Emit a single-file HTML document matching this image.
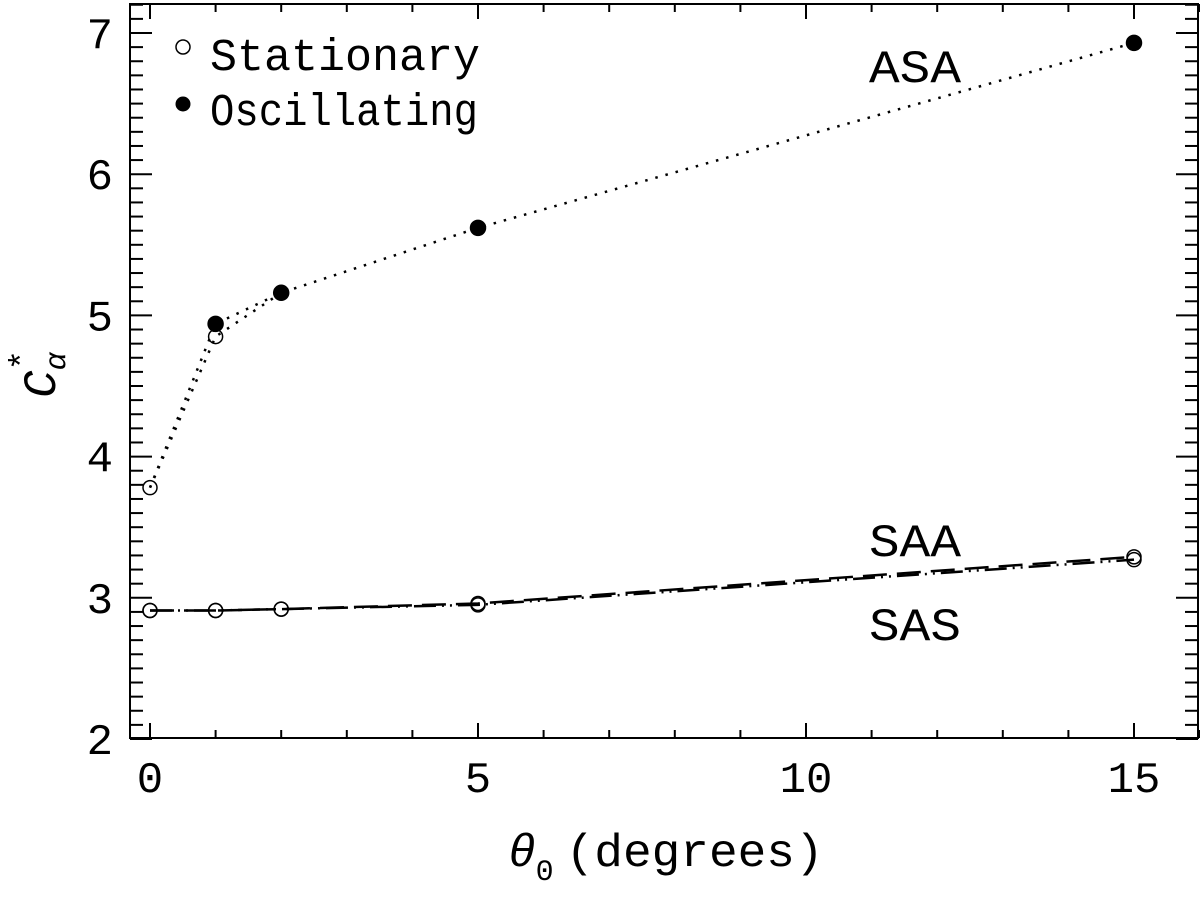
<!DOCTYPE html>
<html><head><meta charset="utf-8"><style>
body{margin:0;background:#fff}
svg text{font-family:"Liberation Mono","DejaVu Sans Mono",monospace;fill:#000}
</style></head><body>
<svg id="chart" width="1200" height="896" xmlns="http://www.w3.org/2000/svg"></svg>
<script>
const asaX=[0,1,2,5,15];
const asaOsc=[3.78,4.94,5.16,5.62,6.93];
const asaStatX=[0,1];
const asaStat=[3.78,4.85];
const saaX=[0,1,2,5,15];
const saaVals=[2.91,2.91,2.92,2.96,3.29];
const sasVals=[2.91,2.91,2.92,2.95,3.27];
const xTicks=[0,5,10,15];
const yTicks=[2,3,4,5,6,7];
const L=130,R=1198,T=4,B=738;
const xs=v=>150+v*65.6;
const ys=v=>33+(7-v)*141.2;
const svg=document.getElementById('chart');
const NS='http://www.w3.org/2000/svg';
function el(tag,attrs,parent){const e=document.createElementNS(NS,tag);for(const k in attrs)e.setAttribute(k,attrs[k]);(parent||svg).appendChild(e);return e;}
const frame=el('rect',{x:L,y:T,width:R-L,height:B-T,fill:'none',stroke:'#000','stroke-width':2});


for(let v=0;v<=16;v++){const x=xs(v);const len=(v%5===0)?15:8;
 const t1=el('line',{x1:x,y1:B,x2:x,y2:B-len,stroke:'#000','stroke-width':2});
 
 
 const t2=el('line',{x1:x,y1:T,x2:x,y2:T+len,stroke:'#000','stroke-width':2});
 
 }
xTicks.forEach(v=>{const t=el('text',{x:xs(v),y:792,'font-size':44,'text-anchor':'middle'});t.textContent=v;
 
 });
for(let i=20;i<=72;i++){const v=i/10;const y=ys(v);if(y<T)continue;const len=(i%10===0)?22:13;
 const t1=el('line',{x1:L,y1:y,x2:L+len,y2:y,stroke:'#000','stroke-width':2});
 
 
 const t2=el('line',{x1:R,y1:y,x2:R-len,y2:y,stroke:'#000','stroke-width':2});
 
 }
yTicks.forEach(v=>{const t=el('text',{x:113,y:ys(v)+15,'font-size':44,'text-anchor':'end'});t.textContent=v;
 
 });
function pts(X,Y){return X.map((x,i)=>xs(x)+','+ys(Y[i])).join(' ');}
const l1=el('polyline',{points:pts(asaX,asaOsc),fill:'none',stroke:'#000','stroke-width':2.5,'stroke-dasharray':'2.5 8'});


const sx=asaStatX.concat([2]);const sy=asaStat.concat([asaOsc[2]]);
const l2=el('polyline',{points:pts(sx,sy),fill:'none',stroke:'#000','stroke-width':2.5,'stroke-dasharray':'2.5 8'});


const l3=el('polyline',{points:pts(saaX,saaVals),fill:'none',stroke:'#000','stroke-width':2.5,'stroke-dasharray':'24 10'});


const l4=el('polyline',{points:pts(saaX,sasVals),fill:'none',stroke:'#000','stroke-width':2.5,'stroke-dasharray':'22 6 2 6 2 6'});


function circ(x,y,fill,name){const c=el('circle',{cx:xs(x),cy:ys(y),r:fill?7.5:7,fill:fill?'#000':'none',stroke:'#000','stroke-width':1.5});
 
 }
asaStatX.forEach((x,i)=>circ(x,asaStat[i],false,'asa-stationary-point'));
asaX.forEach((x,i)=>{if(x>0)circ(x,asaOsc[i],true,'asa-oscillating-point');});
saaX.forEach((x,i)=>circ(x,saaVals[i],false,'saa-point'));
saaX.forEach((x,i)=>circ(x,sasVals[i],false,'sas-point'));
[['ASA',869,82,'asa-label'],['SAA',869,556,'saa-label'],['SAS',869,640,'sas-label']].forEach(a=>{
 const t=el('text',{x:a[1],y:a[2],'font-size':46,textLength:92,lengthAdjust:'spacingAndGlyphs'});t.textContent=a[0];
 
 });
const lc1=el('circle',{cx:183,cy:47,r:7,fill:'none',stroke:'#000','stroke-width':1.5});


const lc2=el('circle',{cx:183,cy:104,r:7.5,fill:'#000'});


const lt1=el('text',{x:210,y:70,'font-size':45,textLength:270,lengthAdjust:'spacingAndGlyphs'});lt1.textContent='Stationary';


const lt2=el('text',{x:210,y:125,'font-size':45,textLength:268,lengthAdjust:'spacingAndGlyphs'});lt2.textContent='Oscillating';


const xt=el('text',{x:508,y:866,'font-size':46});
xt.innerHTML='<tspan font-style="italic">θ</tspan><tspan font-size="30" dy="14">0</tspan><tspan dy="-14" dx="12" textLength="258" lengthAdjust="spacingAndGlyphs">(degrees)</tspan>';


const yt=el('text',{x:0,y:0,'font-size':46,transform:'translate(55,398) rotate(-90)'});
yt.innerHTML='<tspan font-style="italic">C</tspan><tspan font-size="30" dy="10" font-style="italic">α</tspan><tspan font-size="34" dx="-18" dy="-32">*</tspan>';


</script>
</body></html>
